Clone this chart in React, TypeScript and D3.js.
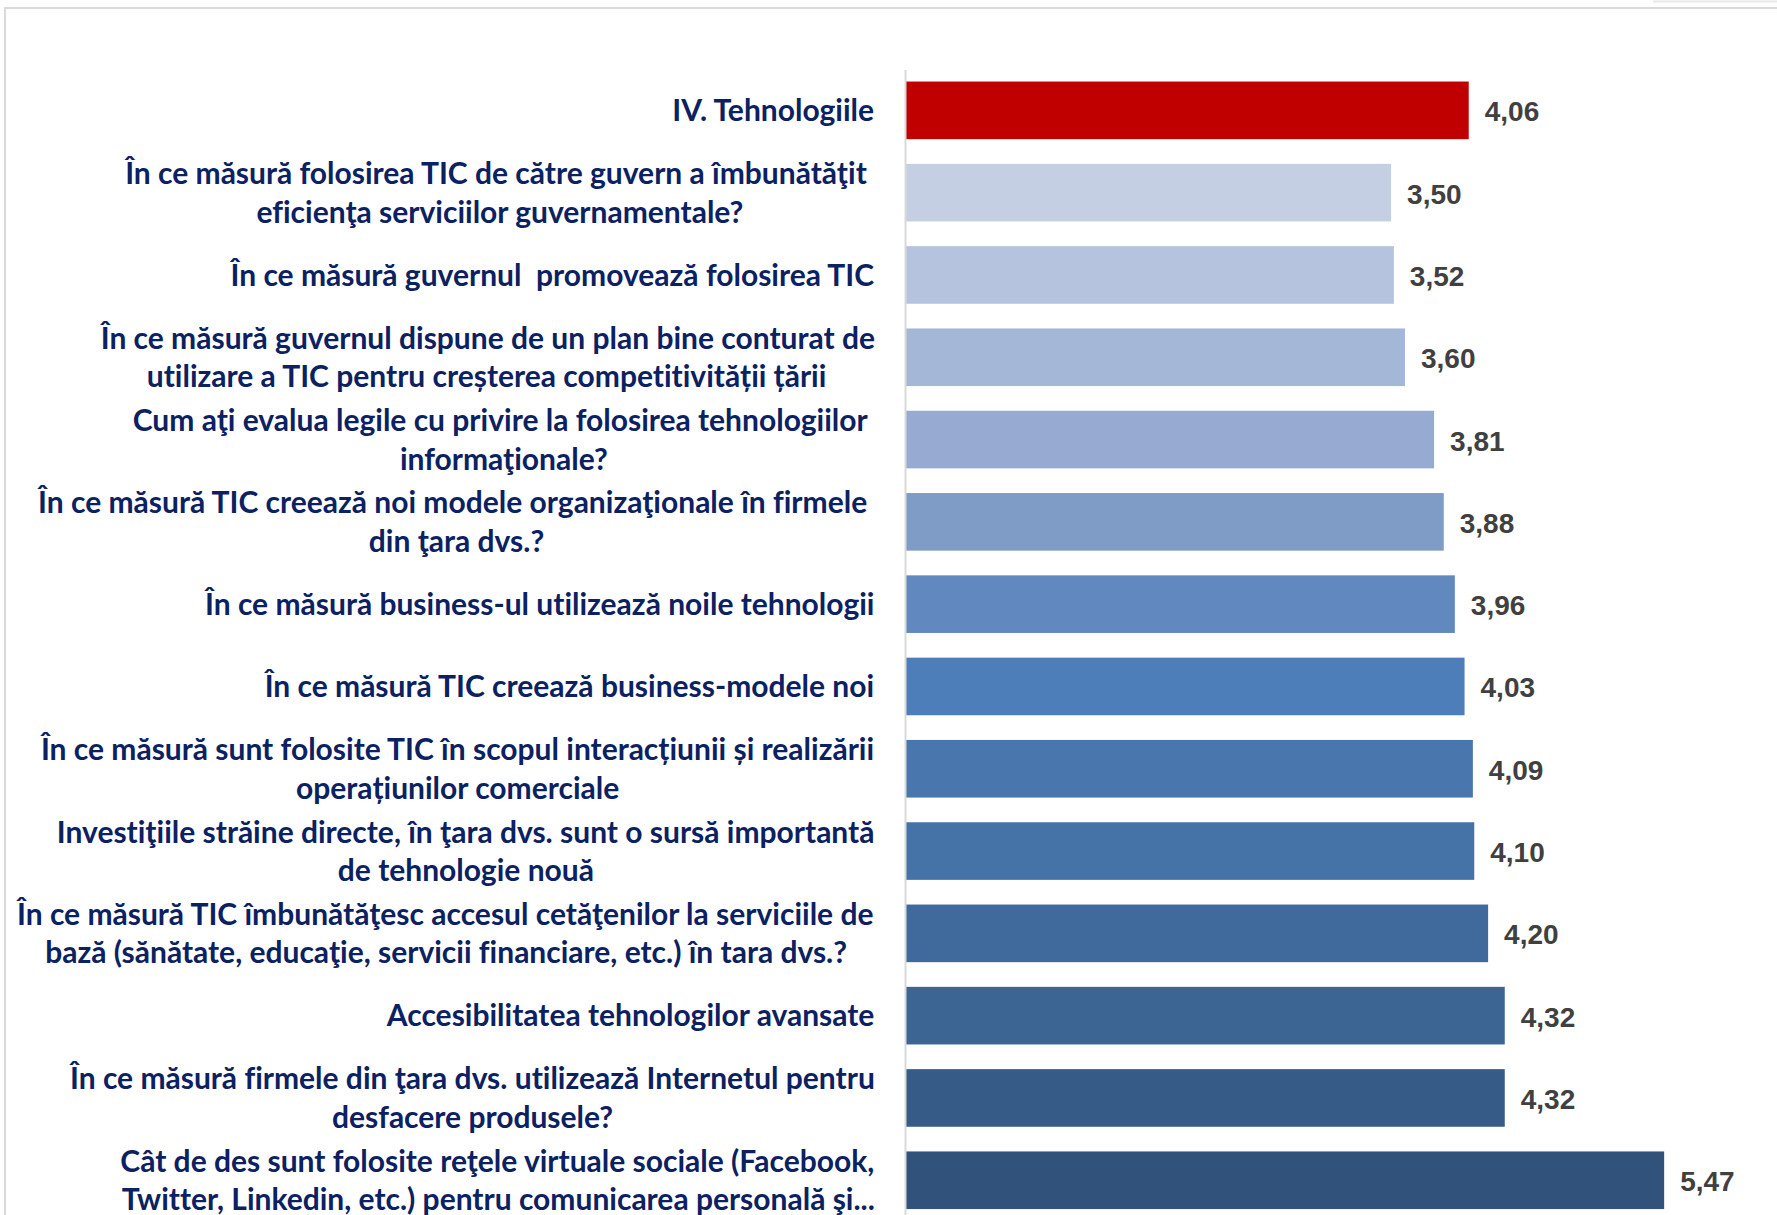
import React, { useMemo } from 'react';
import * as d3 from 'd3';

const categories: string[] = [
  'IV. Tehnologiile',
  'În ce măsură folosirea TIC de către guvern a îmbunătăţit eficienţa serviciilor guvernamentale?',
  'În ce măsură guvernul  promovează folosirea TIC',
  'În ce măsură guvernul dispune de un plan bine conturat de utilizare a TIC pentru creșterea competitivității țării',
  'Cum aţi evalua legile cu privire la folosirea tehnologiilor informaţionale?',
  'În ce măsură TIC creează noi modele organizaţionale în firmele din ţara dvs.?',
  'În ce măsură business-ul utilizează noile tehnologii',
  'În ce măsură TIC creează business-modele noi',
  'În ce măsură sunt folosite TIC în scopul interacțiunii și realizării operațiunilor comerciale',
  'Investiţiile străine directe, în ţara dvs. sunt o sursă importantă de tehnologie nouă',
  'În ce măsură TIC îmbunătăţesc accesul cetăţenilor la serviciile de bază (sănătate, educaţie, servicii financiare, etc.) în tara dvs.?',
  'Accesibilitatea tehnologilor avansate',
  'În ce măsură firmele din ţara dvs. utilizează Internetul pentru desfacere produsele?',
  'Cât de des sunt folosite reţele virtuale sociale (Facebook, Twitter, Linkedin, etc.) pentru comunicarea personală şi...',
];

const labelLines: string[][] = [
  ['IV. Tehnologiile'],
  ['În ce măsură folosirea TIC de către guvern a îmbunătăţit ', 'eficienţa serviciilor guvernamentale?'],
  ['În ce măsură guvernul  promovează folosirea TIC'],
  ['În ce măsură guvernul dispune de un plan bine conturat de', 'utilizare a TIC pentru creșterea competitivității țării'],
  ['Cum aţi evalua legile cu privire la folosirea tehnologiilor ', 'informaţionale?'],
  ['În ce măsură TIC creează noi modele organizaţionale în firmele ', 'din ţara dvs.?'],
  ['În ce măsură business-ul utilizează noile tehnologii'],
  ['În ce măsură TIC creează business-modele noi'],
  ['În ce măsură sunt folosite TIC în scopul interacțiunii și realizării', 'operațiunilor comerciale'],
  ['Investiţiile străine directe, în ţara dvs. sunt o sursă importantă', 'de tehnologie nouă'],
  ['În ce măsură TIC îmbunătăţesc accesul cetăţenilor la serviciile de', 'bază (sănătate, educaţie, servicii financiare, etc.) în tara dvs.?'],
  ['Accesibilitatea tehnologilor avansate'],
  ['În ce măsură firmele din ţara dvs. utilizează Internetul pentru', 'desfacere produsele?'],
  ['Cât de des sunt folosite reţele virtuale sociale (Facebook,', 'Twitter, Linkedin, etc.) pentru comunicarea personală şi...'],
];

const values: number[] = [4.06, 3.5, 3.52, 3.6, 3.81, 3.88, 3.96, 4.03, 4.09, 4.1, 4.2, 4.32, 4.32, 5.47];

const barColors: string[] = [
  '#c00000', '#c5cfe3', '#b5c3de', '#a5b7d7', '#97aad1', '#7f9cc7', '#6189c0',
  '#4d7eb9', '#4876ad', '#4573a8', '#416a9c', '#3c6593', '#375b87', '#31527a',
];

const W = 1777;
const H = 1215;
const LABEL_FONT_FAMILY = 'Lato, "Open Sans", sans-serif';
const LABEL_FONT_SIZE = 30;
const LABEL_RIGHT = 875;
const LINE_HEIGHT = 38.6;

const fmt = (v: number) => d3.format('.2f')(v).replace('.', ',');

export default function App() {
  const x = d3.scaleLinear().domain([0, 6]).range([906, 906 + 6 * 138.6]);
  const y = d3
    .scaleBand<string>()
    .domain(categories)
    .range([69.2, 1221.4])
    .paddingInner(0.3)
    .paddingOuter(0.15);

  const measure = useMemo(() => {
    const canvas = document.createElement('canvas');
    const ctx = canvas.getContext('2d')!;
    ctx.font = `bold ${LABEL_FONT_SIZE}px Lato`;
    return (s: string) => ctx.measureText(s).width;
  }, []);

  return (
    <svg
      width={W}
      height={H}
      style={{ position: 'absolute', left: 0, top: 0, background: '#fff' }}
    >
      {/* frame */}
      <line x1={4} x2={W} y1={8} y2={8} stroke="#dadada" strokeWidth={2} />
      <line x1={5} x2={5} y1={7} y2={H} stroke="#dadada" strokeWidth={2} />
      <line x1={1653} x2={W} y1={1.5} y2={1.5} stroke="#e8e8e8" strokeWidth={2} />

      {/* bars */}
      {categories.map((c, i) => (
        <rect
          key={c}
          x={x(0)}
          y={y(c)!}
          width={x(values[i]) - x(0)}
          height={y.bandwidth()}
          fill={barColors[i]}
        />
      ))}

      {/* axis line */}
      <line x1={x(0) - 0.5} x2={x(0) - 0.5} y1={70} y2={H} stroke="#d9d9d9" strokeWidth={2} />

      {/* value labels */}
      {categories.map((c, i) => (
        <text
          key={'v' + c}
          x={x(values[i]) + 16}
          y={y(c)! + y.bandwidth() / 2 + 11}
          fontFamily='"Liberation Sans", Arial, sans-serif'
          fontWeight={700}
          fontSize={28}
          fill="#404040"
        >
          {fmt(values[i])}
        </text>
      ))}

      {/* category labels */}
      {categories.map((c, i) => {
        const lines = labelLines[i];
        const widths = lines.map((l) => measure(l));
        const blockW = widths[0];
        const center = LABEL_RIGHT - blockW / 2;
        const cy = y(c)! + y.bandwidth() / 2;
        const n = lines.length;
        return (
          <g key={'l' + c}>
            {lines.map((l, j) => (
              <text
                key={j}
                x={center - widths[j] / 2 + (n > 1 && j > 0 && widths[j] > widths[0] ? 8 : 0)}
                y={cy + (j - (n - 1) / 2) * LINE_HEIGHT + 10.8}
                fontFamily={LABEL_FONT_FAMILY}
                fontWeight={700}
                fontSize={LABEL_FONT_SIZE}
                fill="#0b2161"
                style={{ whiteSpace: 'pre', fontVariantLigatures: 'none' }}
              >
                {l.trimEnd()}
              </text>
            ))}
          </g>
        );
      })}
    </svg>
  );
}
